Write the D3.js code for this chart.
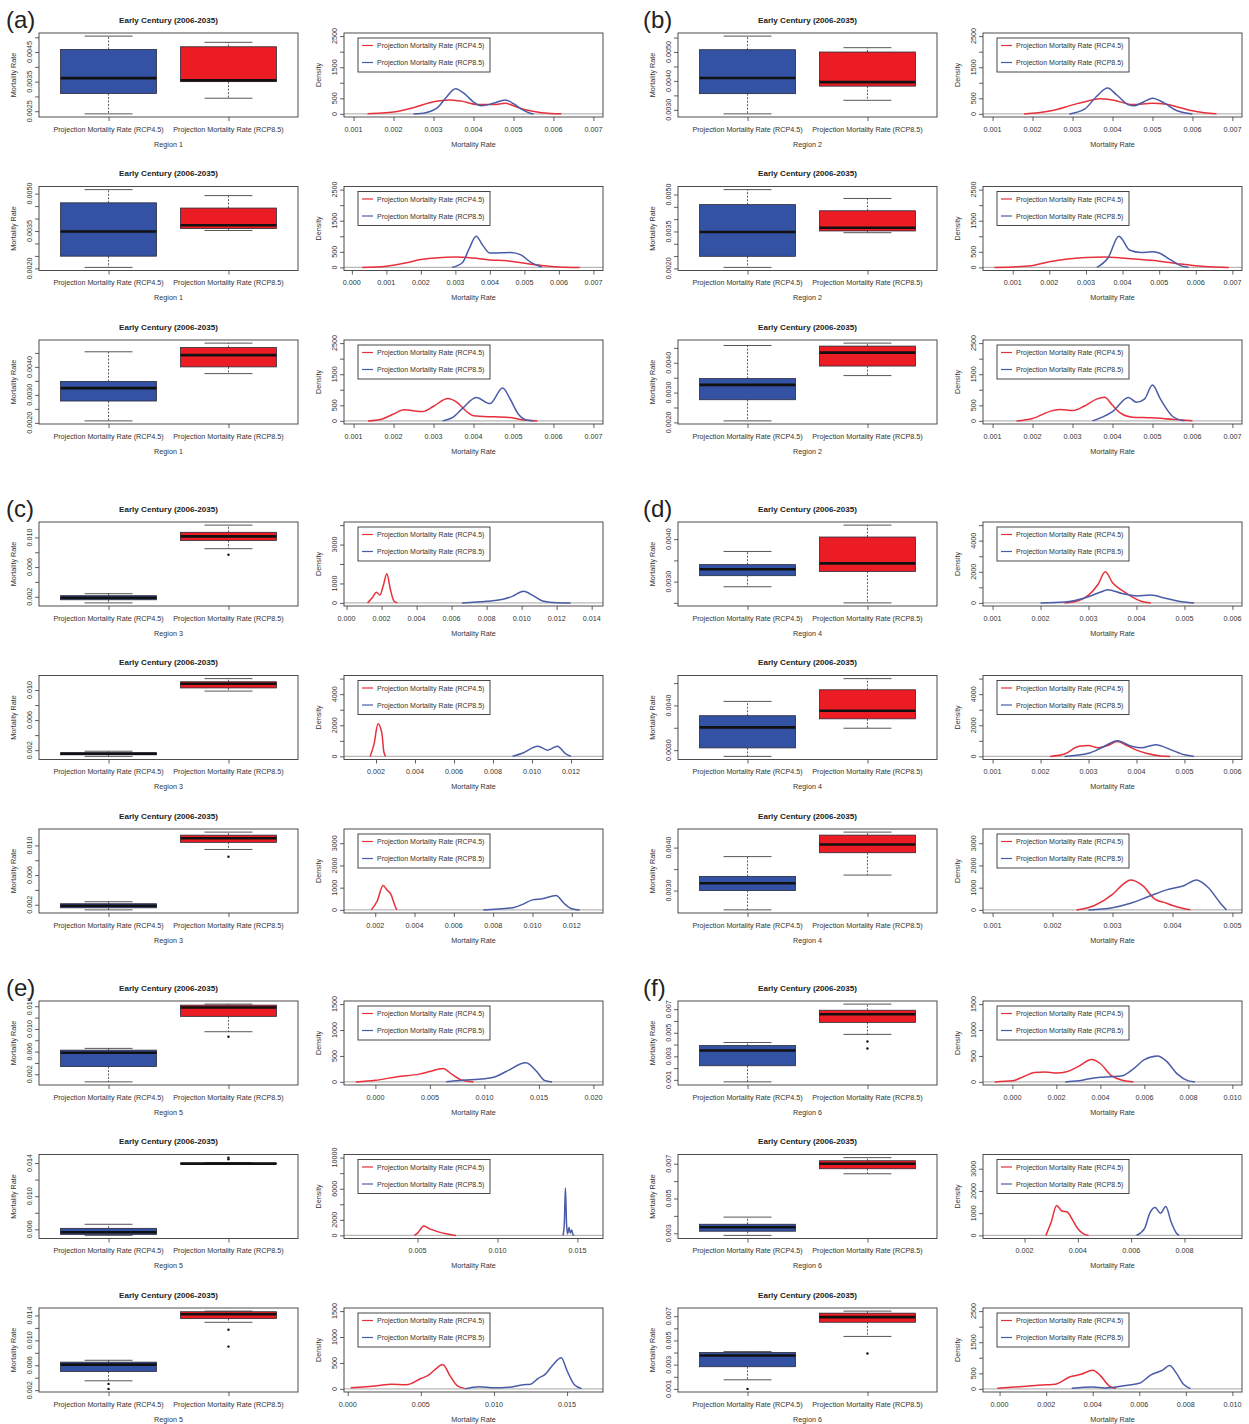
<!DOCTYPE html>
<html>
<head>
<meta charset="utf-8">
<script src="https://cdn.jsdelivr.net/npm/d3@7"></script>
<style>
	body { margin: 0; background: #fff; }
	svg { font-family: "Liberation Sans", Arial, Helvetica, sans-serif; }
</style>
</head>
<body>
<div id="chart-area"></div>
<script>

//**************** Data *****************//

let panelLetters = ['(a)', '(b)', '(c)', '(d)', '(e)', '(f)'];
let regionNames = ['Region 1', 'Region 2', 'Region 3', 'Region 4', 'Region 5', 'Region 6'];
let seriesNames = ['Projection Mortality Rate (RCP4.5)', 'Projection Mortality Rate (RCP8.5)'];
let plotTitle = 'Early Century (2006-2035)';

// rows go a1 a2 a3 b1 b2 b3 ... f3
// box stats: [lower whisker, q1, median, q3, upper whisker]
let boxBlue = [
	[0.00241, 0.00310, 0.00362, 0.00459, 0.00504],
	[0.00204, 0.00249, 0.00348, 0.00463, 0.00516],
	[0.00207, 0.00278, 0.00324, 0.00348, 0.00454],
	[0.00286, 0.00356, 0.00410, 0.00508, 0.00555],
	[0.00204, 0.00249, 0.00348, 0.00459, 0.00520],
	[0.00205, 0.00276, 0.00326, 0.00347, 0.00458],
	[0.00117, 0.00159, 0.00186, 0.00214, 0.00241],
	[0.00117, 0.00138, 0.00152, 0.00166, 0.00186],
	[0.00131, 0.00159, 0.00186, 0.00214, 0.00241],
	[0.00288, 0.00314, 0.00329, 0.00340, 0.00371],
	[0.00286, 0.00305, 0.00351, 0.00377, 0.00409],
	[0.00255, 0.00300, 0.00317, 0.00333, 0.00379],
	[0.00066, 0.00337, 0.00579, 0.00626, 0.00657],
	[0.00527, 0.00539, 0.00564, 0.00612, 0.00661],
	[0.00350, 0.00500, 0.00610, 0.00650, 0.00680],
	[0.00083, 0.00220, 0.00349, 0.00391, 0.00417],
	[0.00288, 0.00312, 0.00335, 0.00352, 0.00393],
	[0.00175, 0.00283, 0.00375, 0.00400, 0.00408]
];
let boxRed = [
	[0.00294, 0.00350, 0.00355, 0.00468, 0.00483],
	[0.00352, 0.00360, 0.00373, 0.00442, 0.00492],
	[0.00376, 0.00400, 0.00442, 0.00469, 0.00485],
	[0.00333, 0.00382, 0.00396, 0.00500, 0.00515],
	[0.00345, 0.00352, 0.00365, 0.00434, 0.00484],
	[0.00357, 0.00389, 0.00434, 0.00456, 0.00466],
	[0.00848, 0.00959, 0.01014, 0.01069, 0.01166],
	[0.00986, 0.01028, 0.01083, 0.01110, 0.01152],
	[0.00945, 0.01041, 0.01097, 0.01138, 0.01179],
	[0.00250, 0.00324, 0.00343, 0.00405, 0.00433],
	[0.00349, 0.00370, 0.00388, 0.00435, 0.00460],
	[0.00336, 0.00388, 0.00407, 0.00429, 0.00436],
	[0.00951, 0.01222, 0.01379, 0.01420, 0.01438],
	[0.01386, 0.01390, 0.01393, 0.01397, 0.01405],
	[0.01290, 0.01350, 0.01420, 0.01460, 0.01470],
	[0.00486, 0.00588, 0.00657, 0.00691, 0.00743],
	[0.00642, 0.00671, 0.00700, 0.00717, 0.00735],
	[0.00533, 0.00650, 0.00692, 0.00725, 0.00742]
];
let outBlue = [[], [], [], [], [], [], [], [], [], [], [], [], [], [],
	[0.0030, 0.0022], [], [], [0.0010]];
let outRed = [[], [], [], [], [], [], [0.00766], [], [0.00848], [], [], [],
	[0.00861], [0.01445, 0.01465], [0.0117, 0.0090], [0.00426, 0.00366], [], [0.00392]];

// box y ticks and the ones that get a label
let boxTicks = [
	[0.0025, 0.003, 0.0035, 0.004, 0.0045, 0.005],
	[0.002, 0.0025, 0.003, 0.0035, 0.004, 0.0045, 0.005],
	[0.002, 0.0025, 0.003, 0.0035, 0.004, 0.0045],
	[0.003, 0.0035, 0.004, 0.0045, 0.005, 0.0055],
	[0.002, 0.0025, 0.003, 0.0035, 0.004, 0.0045, 0.005],
	[0.002, 0.0025, 0.003, 0.0035, 0.004, 0.0045],
	[0.002, 0.004, 0.006, 0.008, 0.010],
	[0.002, 0.004, 0.006, 0.008, 0.010],
	[0.002, 0.004, 0.006, 0.008, 0.010],
	[0.0025, 0.003, 0.0035, 0.004],
	[0.003, 0.0035, 0.004, 0.0045],
	[0.003, 0.0035, 0.004],
	[0.002, 0.004, 0.006, 0.008, 0.010, 0.012, 0.014],
	[0.006, 0.008, 0.010, 0.012, 0.014],
	[0.002, 0.004, 0.006, 0.008, 0.010, 0.012, 0.014],
	[0.001, 0.002, 0.003, 0.004, 0.005, 0.006, 0.007],
	[0.003, 0.004, 0.005, 0.006, 0.007],
	[0.001, 0.002, 0.003, 0.004, 0.005, 0.006, 0.007]
];
let boxLabels = [
	['0.0025', '0.0035', '0.0045'],
	['0.0020', '0.0035', '0.0050'],
	['0.0020', '0.0030', '0.0040'],
	['0.0030', '0.0040', '0.0050'],
	['0.0020', '0.0035', '0.0050'],
	['0.0020', '0.0030', '0.0040'],
	['0.002', '0.006', '0.010'],
	['0.002', '0.006', '0.010'],
	['0.002', '0.006', '0.010'],
	['0.0030', '0.0040'],
	['0.0030', '0.0040'],
	['0.0030', '0.0040'],
	['0.002', '0.006', '0.010', '0.014'],
	['0.006', '0.010', '0.014'],
	['0.002', '0.006', '0.010', '0.014'],
	['0.001', '0.003', '0.005', '0.007'],
	['0.003', '0.005', '0.007'],
	['0.001', '0.003', '0.005', '0.007']
];

// density plots: x limits, x tick labels, y max, y ticks, labelled y ticks
let densXlim = [
	[0.001, 0.007], [0.00005, 0.007], [0.001, 0.007],
	[0.001, 0.007], [0.00045, 0.007], [0.001, 0.007],
	[0.0004, 0.0141], [0.00085, 0.01315], [0.0009, 0.0131],
	[0.001, 0.006], [0.001, 0.006], [0.001, 0.005],
	[-0.002, 0.020], [0.001, 0.016], [0.0004, 0.0168],
	[-0.0009, 0.010], [0.0008, 0.0098], [-0.0003, 0.010]
];
let xt7 = ['0.001', '0.002', '0.003', '0.004', '0.005', '0.006', '0.007'];
let densXTicks = [
	xt7, ['0.000'].concat(xt7), xt7, xt7, xt7, xt7,
	['0.000', '0.002', '0.004', '0.006', '0.008', '0.010', '0.012', '0.014'],
	['0.002', '0.004', '0.006', '0.008', '0.010', '0.012'],
	['0.002', '0.004', '0.006', '0.008', '0.010', '0.012'],
	['0.001', '0.002', '0.003', '0.004', '0.005', '0.006'],
	['0.001', '0.002', '0.003', '0.004', '0.005', '0.006'],
	['0.001', '0.002', '0.003', '0.004', '0.005'],
	['0.000', '0.005', '0.010', '0.015', '0.020'],
	['0.005', '0.010', '0.015'],
	['0.000', '0.005', '0.010', '0.015'],
	['0.000', '0.002', '0.004', '0.006', '0.008', '0.010'],
	['0.002', '0.004', '0.006', '0.008'],
	['0.000', '0.002', '0.004', '0.006', '0.008', '0.010']
];
let densYmax = [2500, 2500, 2500, 2500, 2500, 2500, 4000, 5000, 3500,
	5000, 5000, 3500, 1500, 10000, 1500, 1500, 3500, 2500];
let yt2500 = [0, 500, 1000, 1500, 2000, 2500];
let yl2500 = ['0', '500', '1500', '2500'];
let densYTicks = [
	yt2500, yt2500, yt2500, yt2500, yt2500, yt2500,
	[0, 1000, 2000, 3000, 4000], [0, 1000, 2000, 3000, 4000, 5000], [0, 1000, 2000, 3000],
	[0, 1000, 2000, 3000, 4000, 5000], [0, 1000, 2000, 3000, 4000, 5000], [0, 1000, 2000, 3000],
	[0, 500, 1000, 1500], [0, 2000, 4000, 6000, 8000, 10000], [0, 500, 1000, 1500],
	[0, 500, 1000, 1500], [0, 1000, 2000, 3000], yt2500
];
let densYLabels = [
	yl2500, yl2500, yl2500, yl2500, yl2500, yl2500,
	['0', '1000', '3000'], ['0', '2000', '4000'], ['0', '1000', '2000', '3000'],
	['0', '2000', '4000'], ['0', '2000', '4000'], ['0', '1000', '2000', '3000'],
	['0', '500', '1000', '1500'], ['0', '2000', '6000', '10000'], ['0', '500', '1000', '1500'],
	['0', '500', '1000', '1500'], ['0', '1000', '2000', '3000'], yl2500
];

// density curves [mortality rate, density]
let densRed = [
	[[0.00135, 5], [0.0017, 25], [0.002, 60], [0.0025, 200], [0.003, 390], [0.0034, 450], [0.0037, 410], [0.0041, 300], [0.0045, 300], [0.0048, 340], [0.005, 260], [0.0053, 130], [0.0057, 40], [0.0062, 5]],
	[[0.0003, 0], [0.001, 40], [0.0015, 130], [0.002, 250], [0.0025, 310], [0.003, 330], [0.0035, 300], [0.004, 240], [0.0045, 210], [0.005, 130], [0.0055, 60], [0.006, 15], [0.0066, 0]],
	[[0.00136, 0], [0.0017, 55], [0.002, 220], [0.00226, 355], [0.00273, 300], [0.003, 470], [0.00336, 720], [0.00357, 610], [0.00382, 310], [0.004, 165], [0.0045, 130], [0.0049, 110], [0.00517, 45], [0.0056, 0]],
	[[0.00179, 0], [0.002, 20], [0.0025, 110], [0.003, 290], [0.0035, 450], [0.00367, 485], [0.004, 450], [0.0045, 300], [0.005, 340], [0.0053, 320], [0.0057, 200], [0.006, 100], [0.0063, 40], [0.0066, 5]],
	[[0.0005, 0], [0.001, 15], [0.0015, 50], [0.002, 180], [0.0025, 270], [0.003, 320], [0.0035, 330], [0.004, 300], [0.0045, 250], [0.005, 200], [0.0055, 120], [0.006, 50], [0.0065, 10], [0.0069, 0]],
	[[0.0016, 0], [0.002, 80], [0.0025, 330], [0.0027, 370], [0.003, 330], [0.0033, 480], [0.0036, 700], [0.0038, 760], [0.004, 500], [0.0042, 250], [0.0045, 120], [0.005, 100], [0.0055, 50], [0.006, 5]],
	[[0.0012, 0], [0.0015, 300], [0.0017, 550], [0.0019, 400], [0.0021, 900], [0.0023, 1500], [0.0025, 700], [0.0027, 100], [0.0029, 0]],
	[[0.0017, 0], [0.0019, 800], [0.0021, 2100], [0.0023, 1500], [0.0024, 300], [0.0025, 0]],
	[[0.0018, 0], [0.0021, 400], [0.0024, 1100], [0.0026, 900], [0.0028, 700], [0.003, 200], [0.0031, 0]],
	[[0.0025, 0], [0.0028, 150], [0.003, 500], [0.0032, 1200], [0.00335, 2000], [0.0035, 1300], [0.0037, 800], [0.0039, 400], [0.0041, 100], [0.0043, 0]],
	[[0.0022, 0], [0.0025, 150], [0.0028, 650], [0.003, 700], [0.0032, 550], [0.0034, 700], [0.0036, 950], [0.0038, 700], [0.004, 400], [0.0042, 200], [0.0045, 30], [0.0047, 0]],
	[[0.0024, 0], [0.0027, 200], [0.003, 700], [0.0032, 1200], [0.0033, 1350], [0.0035, 1100], [0.0037, 500], [0.0039, 300], [0.004, 200], [0.0042, 50], [0.0043, 0]],
	[[-0.0018, 0], [0, 30], [0.002, 100], [0.004, 150], [0.005, 200], [0.0062, 260], [0.007, 150], [0.008, 30], [0.009, 0]],
	[[0.0048, 0], [0.005, 300], [0.0054, 1200], [0.0058, 800], [0.0063, 450], [0.0068, 200], [0.0072, 50], [0.0074, 0]],
	[[0.0002, 20], [0.002, 60], [0.003, 90], [0.004, 80], [0.005, 200], [0.0055, 260], [0.006, 380], [0.0065, 470], [0.007, 250], [0.0075, 60], [0.008, 10]],
	[[-0.0008, 0], [0, 20], [0.0005, 100], [0.001, 180], [0.0015, 190], [0.002, 170], [0.0025, 200], [0.003, 300], [0.0036, 430], [0.004, 350], [0.0045, 120], [0.005, 30], [0.0055, 0]],
	[[0.0028, 0], [0.003, 600], [0.0032, 1350], [0.0034, 1100], [0.0036, 1050], [0.0038, 700], [0.004, 300], [0.0042, 80], [0.0044, 0]],
	[[-0.0001, 20], [0.001, 80], [0.002, 130], [0.0024, 150], [0.003, 380], [0.0035, 470], [0.004, 600], [0.0043, 450], [0.0047, 100], [0.005, 10]]
];
let densBlue = [
	[[0.0025, 0], [0.0028, 40], [0.0031, 200], [0.0033, 500], [0.00355, 810], [0.0038, 620], [0.004, 380], [0.0042, 260], [0.0045, 340], [0.0048, 450], [0.005, 330], [0.0052, 150], [0.0054, 30], [0.0055, 0]],
	[[0.0029, 0], [0.0032, 150], [0.0034, 600], [0.0036, 1000], [0.0038, 700], [0.004, 460], [0.0043, 470], [0.0046, 480], [0.0049, 400], [0.0052, 150], [0.0055, 10]],
	[[0.00323, 0], [0.00348, 110], [0.00374, 420], [0.00407, 750], [0.00441, 555], [0.00473, 1055], [0.00491, 720], [0.00512, 220], [0.00534, 20], [0.0055, 0]],
	[[0.00292, 0], [0.0033, 150], [0.0036, 560], [0.00388, 830], [0.0041, 615], [0.0044, 290], [0.00453, 260], [0.0048, 400], [0.005, 500], [0.0053, 345], [0.0056, 110], [0.006, 0]],
	[[0.0033, 0], [0.0036, 300], [0.0039, 1000], [0.0042, 550], [0.0045, 480], [0.0048, 500], [0.005, 460], [0.0053, 250], [0.0056, 50], [0.0058, 0]],
	[[0.0035, 0], [0.004, 300], [0.0044, 750], [0.0046, 600], [0.0048, 700], [0.005, 1150], [0.0052, 700], [0.0055, 150], [0.0058, 0]],
	[[0.0066, 0], [0.008, 80], [0.009, 200], [0.0095, 350], [0.0101, 600], [0.0107, 350], [0.0112, 100], [0.012, 10], [0.0128, 0]],
	[[0.009, 0], [0.0095, 200], [0.0103, 650], [0.0108, 400], [0.0113, 650], [0.0117, 200], [0.012, 0]],
	[[0.0075, 0], [0.009, 100], [0.0095, 250], [0.01, 450], [0.0105, 500], [0.0112, 650], [0.0116, 300], [0.012, 50], [0.0124, 0]],
	[[0.002, 0], [0.0025, 50], [0.003, 400], [0.0033, 750], [0.0034, 850], [0.0037, 600], [0.004, 450], [0.0043, 500], [0.0046, 300], [0.005, 50], [0.0052, 0]],
	[[0.0025, 0], [0.003, 200], [0.0033, 600], [0.0036, 1000], [0.0039, 650], [0.0041, 550], [0.0044, 750], [0.0047, 450], [0.005, 100], [0.0052, 0]],
	[[0.0026, 0], [0.003, 100], [0.0033, 300], [0.0036, 600], [0.0039, 900], [0.0042, 1100], [0.0044, 1350], [0.0046, 1000], [0.0048, 300], [0.0049, 0]],
	[[0.0065, 0], [0.008, 30], [0.01, 60], [0.011, 100], [0.012, 200], [0.0138, 370], [0.0148, 200], [0.0155, 30], [0.0162, 0]],
	[[0.0141, 0], [0.01418, 1500], [0.01425, 6100], [0.01432, 1500], [0.01438, 200], [0.01448, 1000], [0.01455, 300], [0.01465, 700], [0.01472, 100], [0.0148, 0]],
	[[0.008, 0], [0.009, 40], [0.01, 20], [0.011, 30], [0.012, 80], [0.0125, 90], [0.013, 200], [0.0135, 280], [0.014, 450], [0.0146, 600], [0.015, 350], [0.0155, 80], [0.016, 5]],
	[[0.0024, 0], [0.003, 20], [0.0035, 60], [0.004, 90], [0.0045, 100], [0.005, 120], [0.0055, 250], [0.006, 430], [0.0066, 500], [0.007, 400], [0.0075, 150], [0.008, 20], [0.0083, 0]],
	[[0.0062, 0], [0.0065, 300], [0.0067, 1000], [0.0069, 1250], [0.0071, 1000], [0.0073, 1300], [0.0075, 600], [0.0077, 100], [0.0078, 0]],
	[[0.0031, 20], [0.004, 60], [0.0045, 30], [0.005, 60], [0.0055, 120], [0.006, 180], [0.0065, 450], [0.007, 600], [0.0073, 750], [0.0076, 500], [0.0079, 150], [0.0082, 10]]
];


//************* Canvas Set Up *************//

let width = 1249, height = 1424;
let colX = [0, 639];
let rowY = [0, 489, 968];
let subY = [0, 153.5, 307];
let boxL = 39, boxR = 298, denL = 344, denR = 603;
let plotT = 33, plotB = 117;
let textCol = '#333', frameCol = '#3a3a3a';
let boxFill = ['#3452a3', '#ec1c24'];
let lineCol = ['#e8303b', '#4a5ca7'];

let svg = d3.select('#chart-area').append('svg')
	.attr('width', width)
	.attr('height', height);

svg.append('rect').attr('width', width).attr('height', height).attr('fill', '#fff');

// common text helper
function label(g, x, y, txt, opts) {
	let t = g.append('text')
		.attr('transform', 'translate(' + x + ',' + y + ')' + (opts && opts.rot ? ' rotate(-90)' : ''))
		.attr('text-anchor', 'middle')
		.attr('dominant-baseline', 'central')
		.attr('font-size', (opts && opts.size) || '7.2px')
		.attr('fill', (opts && opts.col) || textCol)
		.text(txt);
	if (opts && opts.bold) t.attr('font-weight', 'bold');
	return t;
}

function drawBox(g, i, region) {
	let stats = [boxBlue[i], boxRed[i]];
	let outs = [outBlue[i], outRed[i]];
	let all = stats.flat().concat(outs.flat());
	let lo = d3.min(all), hi = d3.max(all), pad = (hi - lo) * 0.04;

	let y = d3.scaleLinear().domain([lo - pad, hi + pad]).range([plotB, plotT]);
	let x = d3.scaleLinear().domain([0.42, 2.58]).range([boxL, boxR]);

	label(g, (boxL + boxR) / 2, 20, plotTitle, { size: '8.1px', bold: true, col: '#222' });

	// y axis
	let yAxisCall = d3.axisLeft(y).tickValues(boxTicks[i]).tickSize(4).tickFormat('');
	g.append('g')
		.attr('transform', 'translate(' + boxL + ',0)')
		.call(yAxisCall)
		.call(a => a.select('.domain').remove())
		.call(a => a.selectAll('line').attr('stroke', frameCol).attr('stroke-width', 0.8));
	boxLabels[i].forEach(s => label(g, boxL - 10, y(+s), s, { rot: true }));
	label(g, boxL - 26, (plotT + plotB) / 2, 'Mortality Rate', { rot: true });

	// x axis
	let xAxisCall = d3.axisBottom(x).tickValues([1, 2]).tickSize(4).tickFormat('');
	g.append('g')
		.attr('transform', 'translate(0,' + plotB + ')')
		.call(xAxisCall)
		.call(a => a.select('.domain').remove())
		.call(a => a.selectAll('line').attr('stroke', frameCol).attr('stroke-width', 0.8));
	seriesNames.forEach((s, j) => label(g, x(j + 1), plotB + 12, s));
	label(g, (boxL + boxR) / 2, plotB + 27, region);

	// boxes
	let hw = x(1.4) - x(1), cw = hw / 2;
	stats.forEach((s, j) => {
		let cx = x(j + 1);
		let b = g.append('g');
		[[s[3], s[4]], [s[1], s[0]]].forEach(w => {
			b.append('line')
				.attr('x1', cx).attr('x2', cx)
				.attr('y1', y(w[0])).attr('y2', y(w[1]))
				.attr('stroke', '#333').attr('stroke-width', 0.8)
				.attr('stroke-dasharray', '2,1.5');
			b.append('line')
				.attr('x1', cx - cw).attr('x2', cx + cw)
				.attr('y1', y(w[1])).attr('y2', y(w[1]))
				.attr('stroke', '#444').attr('stroke-width', 0.9);
		});
		b.append('rect')
			.attr('x', cx - hw)
			.attr('y', y(s[3]))
			.attr('width', 2 * hw)
			.attr('height', Math.max(y(s[1]) - y(s[3]), 0.5))
			.attr('fill', boxFill[j])
			.attr('stroke', '#2a2a3a')
			.attr('stroke-width', 0.8);
		b.append('line')
			.attr('x1', cx - hw).attr('x2', cx + hw)
			.attr('y1', y(s[2])).attr('y2', y(s[2]))
			.attr('stroke', '#111').attr('stroke-width', 2.6);
		b.selectAll('circle.out')
			.data(outs[j])
			.enter()
			.append('circle')
				.attr('cx', cx)
				.attr('cy', d => y(d))
				.attr('r', 1.2)
				.attr('fill', '#111');
	});

	g.append('rect')
		.attr('x', boxL).attr('y', plotT)
		.attr('width', boxR - boxL).attr('height', plotB - plotT)
		.attr('fill', 'none').attr('stroke', frameCol).attr('stroke-width', 0.9);
}

function drawDensity(g, i) {
	let xl = densXlim[i], xp = (xl[1] - xl[0]) * 0.04;
	let x = d3.scaleLinear().domain([xl[0] - xp, xl[1] + xp]).range([denL, denR]);
	let ym = densYmax[i];
	let y = d3.scaleLinear().domain([-0.04 * ym, 1.04 * ym]).range([plotB, plotT]);

	// zero line
	g.append('line')
		.attr('x1', denL).attr('x2', denR)
		.attr('y1', y(0)).attr('y2', y(0))
		.attr('stroke', '#b8b8b8').attr('stroke-width', 1.2);

	// curves, red first then blue on top
	let line = d3.line()
		.x(d => x(d[0]))
		.y(d => y(d[1]))
		.curve(d3.curveMonotoneX);
	[densRed[i], densBlue[i]].forEach((c, j) => {
		g.append('path')
			.attr('d', line(c))
			.attr('fill', 'none')
			.attr('stroke', lineCol[j])
			.attr('stroke-width', 1.5);
	});

	// axes
	let xAxisCall = d3.axisBottom(x).tickValues(densXTicks[i].map(Number)).tickSize(4).tickFormat('');
	g.append('g')
		.attr('transform', 'translate(0,' + plotB + ')')
		.call(xAxisCall)
		.call(a => a.select('.domain').remove())
		.call(a => a.selectAll('line').attr('stroke', frameCol).attr('stroke-width', 0.8));
	densXTicks[i].forEach(s => label(g, x(+s), plotB + 12, s));
	label(g, (denL + denR) / 2, plotB + 27, 'Mortality Rate');

	let yAxisCall = d3.axisLeft(y).tickValues(densYTicks[i]).tickSize(4).tickFormat('');
	g.append('g')
		.attr('transform', 'translate(' + denL + ',0)')
		.call(yAxisCall)
		.call(a => a.select('.domain').remove())
		.call(a => a.selectAll('line').attr('stroke', frameCol).attr('stroke-width', 0.8));
	densYLabels[i].forEach(s => label(g, denL - 10, y(+s), s, { rot: true }));
	label(g, denL - 26, (plotT + plotB) / 2, 'Density', { rot: true });

	g.append('rect')
		.attr('x', denL).attr('y', plotT)
		.attr('width', denR - denL).attr('height', plotB - plotT)
		.attr('fill', 'none').attr('stroke', frameCol).attr('stroke-width', 0.9);

	// legend
	let lg = g.append('g').attr('transform', 'translate(' + (denL + 14) + ',' + (plotT + 5) + ')');
	lg.append('rect')
		.attr('width', 132).attr('height', 34)
		.attr('fill', '#fff').attr('stroke', '#333').attr('stroke-width', 0.9);
	seriesNames.forEach((s, j) => {
		let yy = 7.5 + j * 17;
		lg.append('line')
			.attr('x1', 4).attr('x2', 15)
			.attr('y1', yy).attr('y2', yy)
			.attr('stroke', lineCol[j]).attr('stroke-width', 1.2);
		lg.append('text')
			.attr('x', 19).attr('y', yy)
			.attr('dominant-baseline', 'central')
			.attr('font-size', '7px')
			.attr('fill', textCol)
			.text(s);
	});
}

panelLetters.forEach((p, k) => {
	let px = colX[k % 2], py = rowY[Math.floor(k / 2)];
	svg.append('text')
		.attr('x', px + (k % 2 ? 4 : 6))
		.attr('y', py + 28)
		.attr('font-size', '24px')
		.attr('fill', '#222')
		.text(p);
	for (let r = 0; r < 3; r++) {
		let i = k * 3 + r;
		let g = svg.append('g')
			.attr('transform', 'translate(' + px + ',' + (py + subY[r]) + ')');
		drawBox(g, i, regionNames[k]);
		drawDensity(g, i);
	}
});

</script>
</body>
</html>
